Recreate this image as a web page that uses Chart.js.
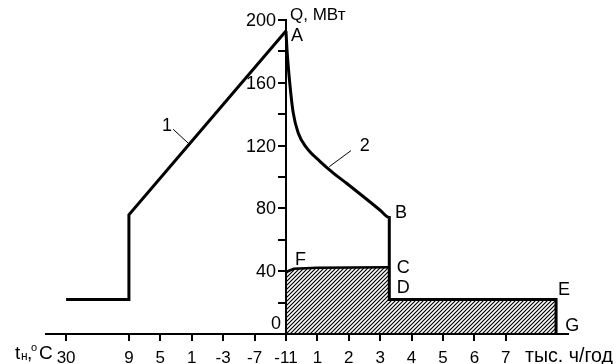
<!DOCTYPE html>
<html>
<head>
<meta charset="utf-8">
<script src="https://cdn.jsdelivr.net/npm/chart.js@4/dist/chart.umd.min.js"></script>
<style>
  html, body { margin: 0; padding: 0; background: #fff; }
</style>
</head>
<body>
<canvas id="chart-q" width="616" height="364"></canvas>
<script>
// x: тыс. ч/год справа от оси Q, шаги температуры слева
const xTicks = [-7, -5, -4, -3, -2, -1, 0, 1, 2, 3, 4, 5, 6, 7];
const xTickLabels = ['30', '9', '5', '1', '-3', '-7', '-11', '1', '2', '3', '4', '5', '6', '7'];
const yTickLabels = [40, 80, 120, 160, 200];

// линия 1 (по температуре)
const line1X = [-7, -5, -5, 0];
const line1Q = [22, 22, 76, 193];
// линия 2: A - B - D - E - G
const line2X = [0, 0.04, 0.13, 0.23, 0.39, 0.66, 1.08, 1.51, 1.93, 2.46, 2.99, 3.29, 3.29, 8.6, 8.6];
const line2Q = [193, 179, 158, 141, 128, 118.5, 110, 102.5, 96, 87.6, 79, 74.2, 22, 22, 0];
// F - C
const fcX = [0, 0.25, 1, 3.29];
const fcQ = [39.5, 41.5, 42.2, 42.5];
// D - E (штриховка, чуть заходит под C, чтобы не было шва)
const deX = [3.27, 8.6];
const deQ = [22, 22];

const FONT = '"Liberation Sans", Arial, sans-serif';

function pts(xs, qs) {
  return xs.map((x, i) => ({ x, y: qs[i] }));
}

function hatch() {
  const c = document.createElement('canvas');
  c.width = 4;
  c.height = 4;
  const g = c.getContext('2d');
  g.strokeStyle = '#000';
  g.lineWidth = 1.2;
  g.beginPath();
  g.moveTo(0, 4); g.lineTo(4, 0);
  g.moveTo(-1, 1); g.lineTo(1, -1);
  g.moveTo(3, 5); g.lineTo(5, 3);
  g.stroke();
  return g.createPattern(c, 'repeat');
}

const notes = {
  id: 'notes',
  afterDraw(chart) {
    const { ctx, scales: { x, y } } = chart;
    const px = (v) => x.getPixelForValue(v);
    const py = (v) => y.getPixelForValue(v);
    ctx.save();
    ctx.fillStyle = '#000';
    ctx.strokeStyle = '#000';
    ctx.textBaseline = 'middle';
    ctx.textAlign = 'left';

    ctx.font = '18px ' + FONT;
    const put = (t, vx, vq) => ctx.fillText(t, px(vx), py(vq));
    put('A', 0.16, 189.5);
    put('B', 3.47, 77);
    put('C', 3.53, 42);
    put('D', 3.53, 29.3);
    put('F', 0.29, 47.1);
    put('E', 8.66, 28);
    put('G', 8.89, 5.1);
    put('1', -3.95, 132.5);
    put('2', 2.35, 119.7);
    ctx.font = '17px ' + FONT;
    put('Q, МВт', 0.13, 203);

    // подписи оси Q слева от оси
    ctx.font = '18px ' + FONT;
    ctx.textAlign = 'right';
    const ax = px(0) - 10;
    yTickLabels.forEach((v) => ctx.fillText(String(v), ax, py(v) + 1));
    ctx.fillText('0', ax + 5, py(6.4));

    // выноски
    ctx.lineWidth = 1;
    ctx.beginPath();
    ctx.moveTo(px(-3.59), py(130.4)); ctx.lineTo(px(-3.11), py(121.5));
    ctx.moveTo(px(2.07), py(116.8)); ctx.lineTo(px(1.38), py(106.6));
    ctx.stroke();

    // подписи оси x
    const base = x.top + 25;
    ctx.textAlign = 'left';
    ctx.textBaseline = 'alphabetic';
    ctx.font = '20px ' + FONT;
    ctx.fillText('тыс. ч/год', 525, base + 3, 88);
    ctx.font = '19px ' + FONT;
    ctx.fillText('t', 15, base);
    ctx.font = '12px ' + FONT;
    ctx.fillText('н', 21, base + 1);
    ctx.font = '19px ' + FONT;
    ctx.fillText(',', 27, base);
    ctx.font = '11px ' + FONT;
    ctx.fillText('о', 31, base - 8);
    ctx.font = '19px ' + FONT;
    ctx.fillText('C', 39, base);
    ctx.restore();
  }
};

const pattern = hatch();
const ctx = document.getElementById('chart-q');

new Chart(ctx, {
  type: 'line',
  data: {
    datasets: [
      { data: pts(line1X, line1Q), borderColor: '#000', borderWidth: 3, pointRadius: 0, fill: false },
      { data: pts(line2X, line2Q), borderColor: '#000', borderWidth: 3, pointRadius: 0, fill: false, cubicInterpolationMode: 'monotone' },
      { data: pts(fcX, fcQ), borderColor: '#000', borderWidth: 2.5, pointRadius: 0, fill: 'origin', backgroundColor: pattern },
      { data: pts(deX, deQ), borderWidth: 0, pointRadius: 0, fill: 'origin', backgroundColor: pattern }
    ]
  },
  options: {
    responsive: false,
    animation: false,
    layout: { padding: { left: 46, right: 48, top: 20, bottom: 0 } },
    plugins: { legend: { display: false }, tooltip: { enabled: false } },
    scales: {
      x: {
        type: 'linear',
        min: -7.64,
        max: 8.98,
        afterBuildTicks: (s) => { s.ticks = xTicks.map((v) => ({ value: v })); },
        afterFit: (s) => { s.height = 30; },
        ticks: {
          callback: (v) => xTickLabels[xTicks.indexOf(v)],
          autoSkip: false,
          maxRotation: 0,
          padding: 7,
          color: '#000',
          font: { family: FONT, size: 17 }
        },
        grid: { drawOnChartArea: false, drawTicks: true, tickLength: 7, color: '#000', lineWidth: 2 },
        border: { color: '#000', width: 2 }
      },
      y: {
        type: 'linear',
        position: { x: 0 },
        min: 0,
        max: 200,
        ticks: {
          stepSize: 20,
          callback: () => '',
          color: '#000'
        },
        grid: { drawOnChartArea: false, drawTicks: true, tickLength: 7, color: '#000', lineWidth: 2 },
        border: { color: '#000', width: 2 }
      }
    }
  },
  plugins: [notes]
});
</script>
</body>
</html>
